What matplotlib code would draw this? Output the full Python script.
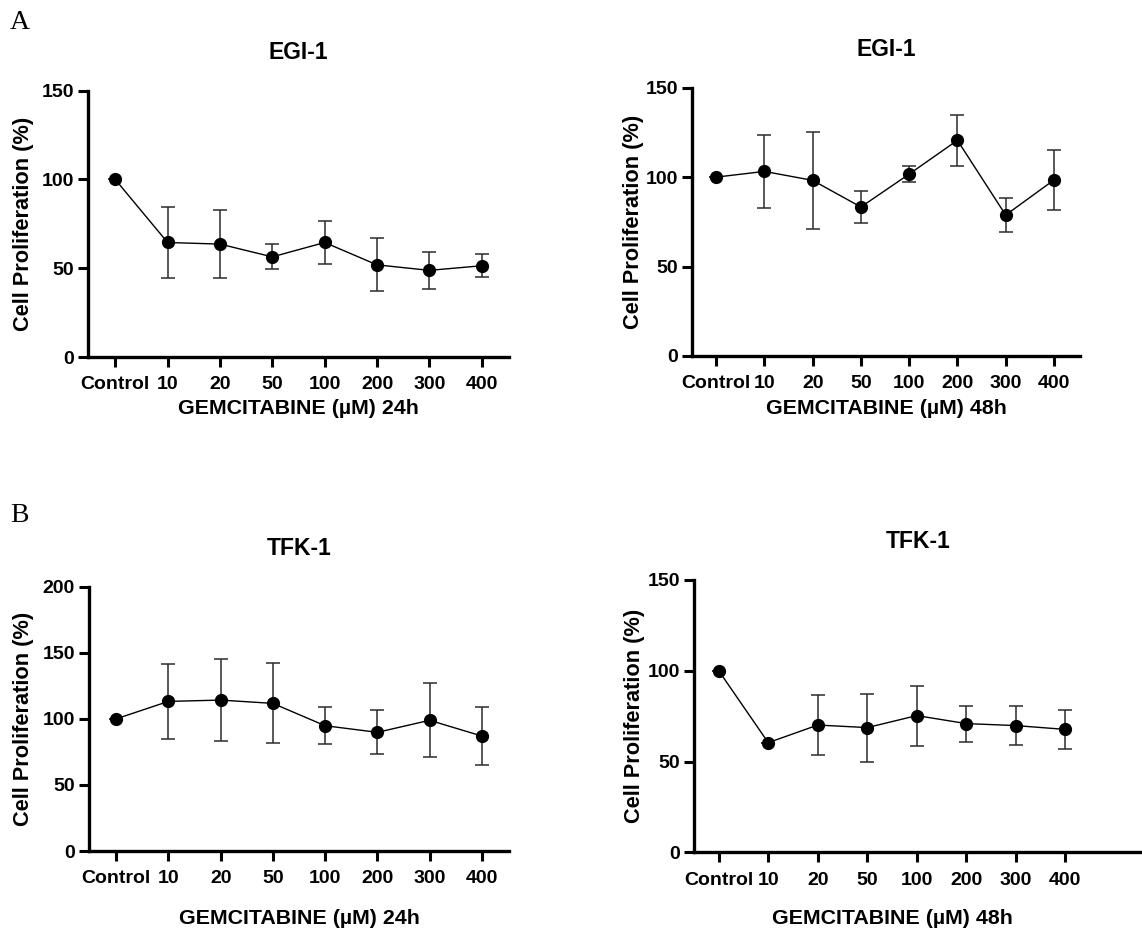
import numpy as np
import matplotlib
matplotlib.use('Agg')
import matplotlib.pyplot as plt

plt.rcParams['font.family'] = ['Liberation Sans', 'DejaVu Sans']
plt.rcParams['font.weight'] = 'bold'

# 数据
doses = ['Control', '10', '20', '50', '100', '200', '300', '400']

egi_24_mean = [100, 64.5, 63.6, 56.4, 64.5, 51.9, 48.8, 51.4]
egi_24_err = [0, 20, 19, 7, 12, 15, 10.3, 6.5]

egi_48_mean = [100, 103.2, 98.2, 83.3, 101.7, 120.6, 78.8, 98.4]
egi_48_err = [0, 20.3, 27.2, 8.8, 4.6, 14.3, 9.6, 16.6]

tfk_24_mean = [100, 113.2, 114.2, 111.7, 94.8, 89.8, 98.9, 87.0]
tfk_24_err = [0, 28.4, 31.0, 30.2, 14.2, 16.7, 28.1, 21.6]

tfk_48_mean = [100, 60.4, 70.1, 68.7, 75.3, 70.9, 69.8, 67.7]
tfk_48_err = [0, 0, 16.4, 18.7, 16.5, 9.9, 10.7, 10.8]

W, H = 1142, 935
fig = plt.figure(figsize=(W / 100, H / 100), dpi=100)


def panel(box, mean, err, title, xlabel, ymax, yticks, xlim,
          ylab_x, xlab_y, xlab_x=0.5):
    l, t, r, b = box
    ax = fig.add_axes([l / W, 1 - b / H, (r - l) / W, (b - t) / H])
    x = np.arange(len(doses))
    ax.errorbar(x, mean, yerr=err, fmt='none', ecolor='#2b2b2b',
                elinewidth=1.1, capsize=5, capthick=1.1, zorder=2)
    ax.plot(x, mean, color='black', lw=1.0, marker='o', markersize=8.5,
            zorder=3)
    ax.set_ylim(0, ymax)
    ax.set_xlim(*xlim)
    ax.set_yticks(yticks)
    ax.set_xticks(x)
    ax.set_xticklabels(doses)
    for s in ['top', 'right']:
        ax.spines[s].set_visible(False)
    for s in ['left', 'bottom']:
        ax.spines[s].set_linewidth(2.4)
        ax.spines[s].set_capstyle('projecting')
    ax.tick_params(axis='both', length=7, width=2.2, labelsize=14, pad=3)
    ax.tick_params(axis='x', pad=7)
    ax.set_title(title, fontsize=16.5, fontweight='bold', pad=23)
    ax.set_ylabel('Cell Proliferation (%)', fontsize=15.7, fontweight='bold')
    ax.set_xlabel(xlabel, fontsize=15.4, fontweight='bold')
    ax.yaxis.set_label_coords(ylab_x, 0.5)
    ax.xaxis.set_label_coords(xlab_x, xlab_y)
    return ax


panel((88, 90.7, 509, 357), egi_24_mean, egi_24_err, 'EGI-1',
      'GEMCITABINE (µM) 24h', 150, [0, 50, 100, 150], (-0.52, 7.52),
      -0.128, -0.158)
panel((692, 87.7, 1080, 356), egi_48_mean, egi_48_err, 'EGI-1',
      'GEMCITABINE (µM) 48h', 150, [0, 50, 100, 150], (-0.5, 7.54),
      -0.1227, -0.160)
panel((89, 586.7, 509, 851), tfk_24_mean, tfk_24_err, 'TFK-1',
      'GEMCITABINE (µM) 24h', 200, [0, 50, 100, 150, 200], (-0.52, 7.52),
      -0.13, -0.219)
panel((694, 580, 1142, 852.3), tfk_48_mean, tfk_48_err, 'TFK-1',
      'GEMCITABINE (µM) 48h', 150, [0, 50, 100, 150], (-0.5, 8.55),
      -0.1096, -0.208, xlab_x=0.442)

fig.text(10 / W, 1 - 29 / H, 'A', fontsize=20, fontweight='normal',
         family='Liberation Serif')
fig.text(10 / W, 1 - 522 / H, 'B', fontsize=20, fontweight='normal',
         family='Liberation Serif')

fig.savefig('out.png', dpi=100)
